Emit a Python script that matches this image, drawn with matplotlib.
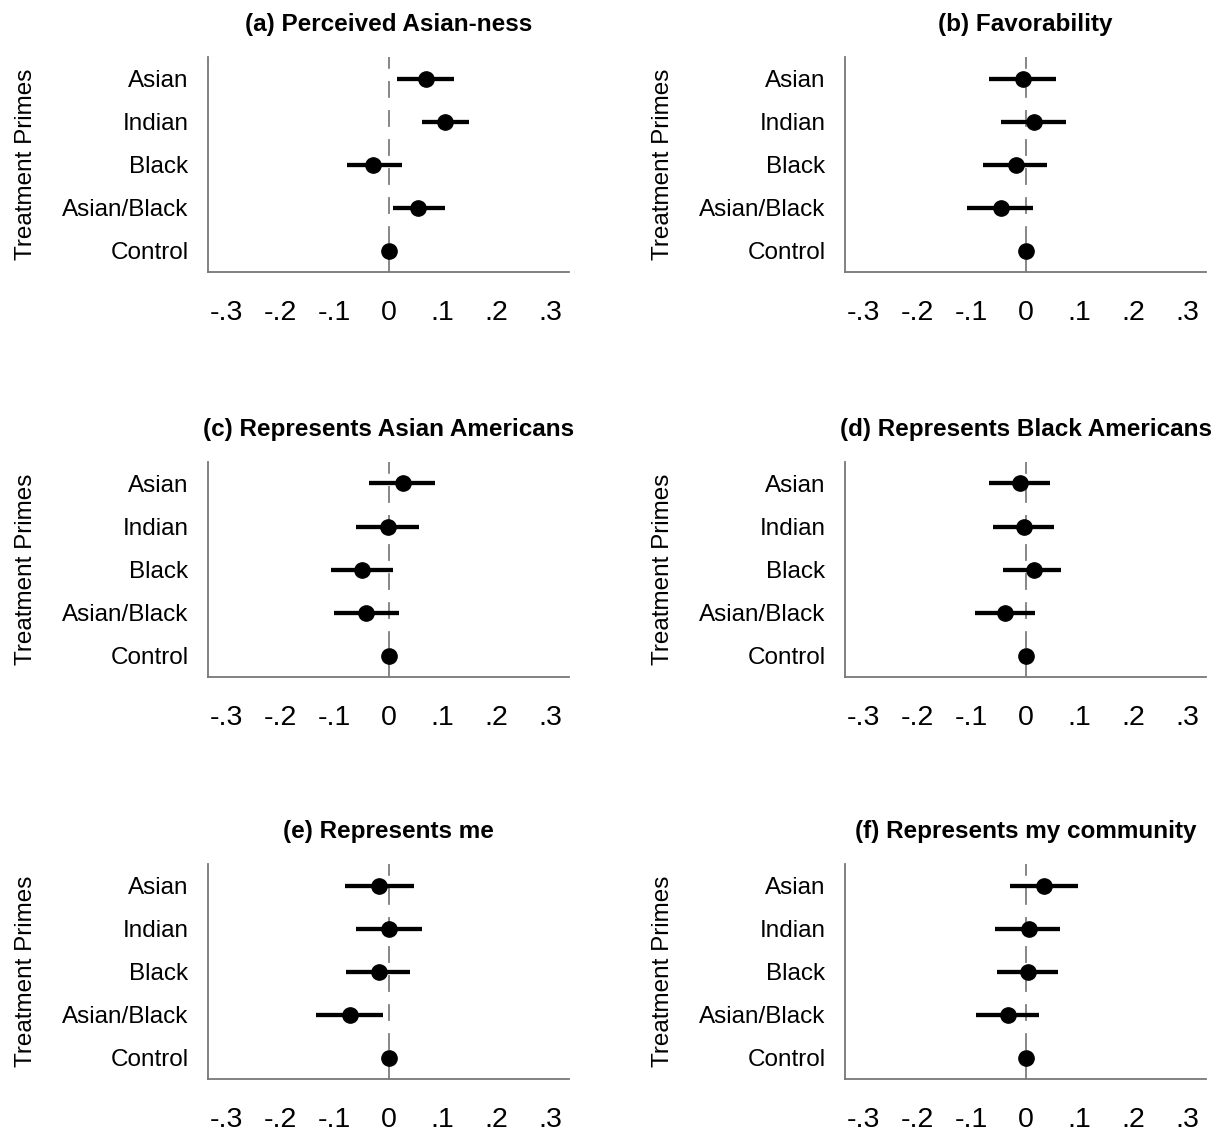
import matplotlib
matplotlib.use("Agg")
import matplotlib.pyplot as plt
import numpy as np

plt.rcParams['font.family'] = ['Liberation Sans', 'DejaVu Sans']

categories = ["Asian", "Indian", "Black", "Asian/Black", "Control"]
titles = ["(a) Perceived Asian-ness", "(b) Favorability",
          "(c) Represents Asian Americans", "(d) Represents Black Americans",
          "(e) Represents me", "(f) Represents my community"]
xtick_vals = [-0.3, -0.2, -0.1, 0, 0.1, 0.2, 0.3]
xtick_labels = ["-.3", "-.2", "-.1", "0", ".1", ".2", ".3"]

# point estimates and CI bounds, order = categories (Control is baseline)
est_a = [0.069, 0.105, -0.028, 0.054, 0.0]
lo_a = [0.016, 0.062, -0.077, 0.008, 0.0]
hi_a = [0.121, 0.150, 0.025, 0.104, 0.0]

est_b = [-0.005, 0.016, -0.018, -0.046, 0.0]
lo_b = [-0.067, -0.045, -0.079, -0.109, 0.0]
hi_b = [0.057, 0.075, 0.040, 0.013, 0.0]

est_c = [0.027, -0.001, -0.049, -0.041, 0.0]
lo_c = [-0.037, -0.061, -0.106, -0.101, 0.0]
hi_c = [0.086, 0.057, 0.008, 0.019, 0.0]

est_d = [-0.011, -0.002, 0.015, -0.038, 0.0]
lo_d = [-0.067, -0.060, -0.042, -0.094, 0.0]
hi_d = [0.046, 0.053, 0.065, 0.017, 0.0]

est_e = [-0.017, 0.001, -0.018, -0.071, 0.0]
lo_e = [-0.081, -0.061, -0.078, -0.135, 0.0]
hi_e = [0.047, 0.062, 0.040, -0.011, 0.0]

est_f = [0.035, 0.006, 0.004, -0.033, 0.0]
lo_f = [-0.028, -0.056, -0.053, -0.091, 0.0]
hi_f = [0.097, 0.064, 0.061, 0.025, 0.0]

panels = [(est_a, lo_a, hi_a), (est_b, lo_b, hi_b),
          (est_c, lo_c, hi_c), (est_d, lo_d, hi_d),
          (est_e, lo_e, hi_e), (est_f, lo_f, hi_f)]

W, H = 1225, 1134
fig = plt.figure(figsize=(W / 100, H / 100), dpi=100)

col_left = [208, 845]
row_top = [57, 462, 864]
ax_w, ax_h = 361, 215

ypos = np.arange(len(categories))[::-1]
spine_col = "#777777"

for i, (est, lo, hi) in enumerate(panels):
    r, c = divmod(i, 2)
    left = col_left[c] / W
    bottom = 1 - (row_top[r] + ax_h) / H
    ax = fig.add_axes([left, bottom, ax_w / W, ax_h / H])

    est = np.array(est)
    lo = np.array(lo)
    hi = np.array(hi)

    ax.axvline(0, color="#666666", lw=1.1, ls=(0, (11, 8)), zorder=1)
    ax.errorbar(est, ypos, xerr=[est - lo, hi - est], fmt="o", color="black",
                ms=11, elinewidth=3.1, capsize=0, zorder=3)

    ax.set_xlim(-0.335, 0.335)
    ax.set_ylim(-0.5, 4.5)
    ax.set_xticks(xtick_vals)
    ax.set_xticklabels(xtick_labels, fontsize=20.5)
    ax.set_yticks(ypos)
    ax.set_yticklabels(categories, fontsize=17.5)
    ax.tick_params(axis="x", length=0, pad=20)
    ax.tick_params(axis="y", length=0, pad=14)

    for s in ["top", "right"]:
        ax.spines[s].set_visible(False)
    for s in ["left", "bottom"]:
        ax.spines[s].set_color(spine_col)
        ax.spines[s].set_linewidth(1.3)

    ax.set_title(titles[i], fontsize=17.5, fontweight="bold", pad=19)
    ax.set_ylabel("Treatment Primes", fontsize=17.5)
    ax.yaxis.set_label_coords(-0.473, 0.5)

fig.savefig("out.png", dpi=100)
